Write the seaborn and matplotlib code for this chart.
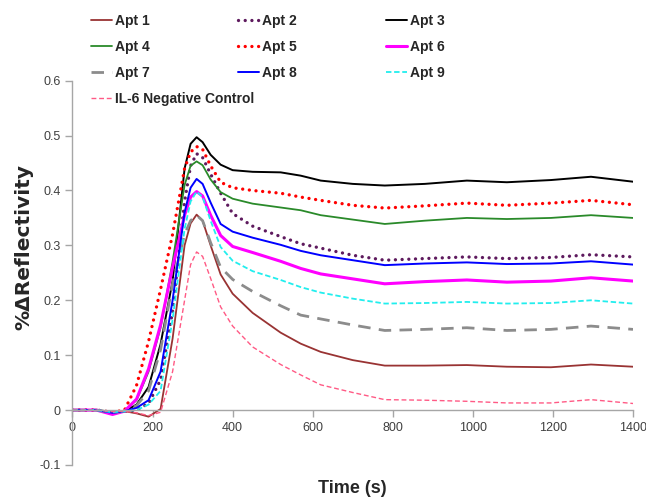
import matplotlib
matplotlib.use('Agg')
import matplotlib.pyplot as plt
from matplotlib.ticker import MultipleLocator, FuncFormatter
import seaborn as sns

# time points (s)
time_s = [0, 60, 100, 130, 160, 190, 220, 250, 280, 295, 310, 325, 345, 370, 400, 450,
          520, 570, 620, 700, 780, 880, 985, 1085, 1195, 1295, 1400]

apt1 = [0, 0, -0.003, -0.002, -0.006, -0.012, 0.002, 0.13, 0.30, 0.34, 0.356, 0.345, 0.30,
        0.247, 0.212, 0.177, 0.141, 0.121, 0.106, 0.091, 0.081, 0.081, 0.082, 0.079, 0.078,
        0.083, 0.079]
apt2 = [0, 0, -0.004, -0.002, 0.0, 0.012, 0.055, 0.18, 0.38, 0.445, 0.467, 0.46, 0.43,
        0.395, 0.358, 0.335, 0.316, 0.303, 0.295, 0.282, 0.273, 0.276, 0.279, 0.276, 0.278,
        0.283, 0.279]
apt3 = [0, 0, -0.005, -0.002, 0.01, 0.042, 0.12, 0.235, 0.44, 0.485, 0.497, 0.488, 0.465,
        0.447, 0.437, 0.434, 0.433, 0.427, 0.418, 0.412, 0.409, 0.412, 0.418, 0.415, 0.419,
        0.425, 0.416]
apt4 = [0, 0, -0.004, -0.001, 0.018, 0.07, 0.15, 0.27, 0.41, 0.445, 0.453, 0.446, 0.42,
        0.397, 0.385, 0.376, 0.369, 0.364, 0.355, 0.347, 0.339, 0.345, 0.350, 0.348, 0.350,
        0.355, 0.350]
apt5 = [0, 0, -0.004, 0.0, 0.045, 0.125, 0.22, 0.32, 0.44, 0.47, 0.48, 0.475, 0.445,
        0.415, 0.405, 0.40, 0.395, 0.388, 0.382, 0.373, 0.368, 0.372, 0.377, 0.373, 0.377,
        0.382, 0.374]
apt6 = [0, 0, -0.008, -0.002, 0.02, 0.075, 0.155, 0.26, 0.355, 0.388, 0.398, 0.39, 0.355,
        0.318, 0.298, 0.287, 0.271, 0.258, 0.248, 0.239, 0.230, 0.234, 0.237, 0.233, 0.235,
        0.241, 0.235]
apt7 = [0, 0, -0.005, -0.002, 0.008, 0.035, 0.11, 0.23, 0.32, 0.345, 0.355, 0.345, 0.305,
        0.26, 0.238, 0.216, 0.19, 0.173, 0.166, 0.155, 0.145, 0.147, 0.150, 0.145, 0.147,
        0.153, 0.147]
apt8 = [0, 0, -0.005, -0.002, 0.004, 0.018, 0.07, 0.20, 0.36, 0.405, 0.421, 0.412, 0.378,
        0.339, 0.325, 0.314, 0.301, 0.290, 0.282, 0.273, 0.264, 0.267, 0.269, 0.266, 0.267,
        0.271, 0.265]
apt9 = [0, 0, -0.004, -0.002, 0.0, 0.01, 0.035, 0.165, 0.33, 0.38, 0.398, 0.388, 0.345,
        0.297, 0.272, 0.253, 0.237, 0.224, 0.214, 0.203, 0.194, 0.195, 0.197, 0.194, 0.195,
        0.200, 0.194]
il6 = [0, 0, -0.003, -0.002, -0.005, -0.01, -0.004, 0.07, 0.20, 0.265, 0.288, 0.28, 0.24,
       0.188, 0.153, 0.115, 0.083, 0.064, 0.046, 0.032, 0.019, 0.018, 0.016, 0.013, 0.013,
       0.019, 0.012]

labels = ['Apt 1', 'Apt 2', 'Apt 3', 'Apt 4', 'Apt 5', 'Apt 6', 'Apt 7', 'Apt 8', 'Apt 9',
          'IL-6 Negative Control']
series = [apt1, apt2, apt3, apt4, apt5, apt6, apt7, apt8, apt9, il6]
colors = ['#993333', '#5E1A5E', '#000000', '#2A8A2A', '#FF0000', '#FF00FF', '#8C8C8C',
          '#0000FF', '#22EEEE', '#FF5A85']
dotted = (0, (0.01, 2.0))
styles = ['-', dotted, '-', '-', dotted, '-', (0, (4.5, 3)), '-', (0, (3, 1.5)), (0, (3.5, 2))]
widths = [1.3, 2.4, 1.4, 1.3, 2.4, 2.2, 2.0, 1.4, 1.3, 1.0]

sns.set_style('white')
plt.rcParams['font.family'] = ['Liberation Sans', 'DejaVu Sans']

fig = plt.figure(figsize=(6.46, 4.98), dpi=100)
ax = fig.add_axes([0.1122, 0.0663, 0.8677, 0.7717])

for vals, lab, c, ls, lw in zip(series, labels, colors, styles, widths):
    sns.lineplot(x=time_s, y=vals, ax=ax, color=c, linestyle=ls, linewidth=lw,
                 label=lab, dash_capstyle='round' if ls is dotted else 'butt',
                 solid_joinstyle='round')

if ax.get_legend() is not None:
    ax.get_legend().remove()

ax.set_xlim(0, 1400)
ax.set_ylim(-0.1, 0.6)
ax.xaxis.set_major_locator(MultipleLocator(200))
ax.yaxis.set_major_locator(MultipleLocator(0.1))
ax.yaxis.set_major_formatter(FuncFormatter(lambda v, p: f'{round(v, 1):g}'))

sns.despine(ax=ax)
ax.spines['bottom'].set_position(('data', 0))
for s in ['left', 'bottom']:
    ax.spines[s].set_color('#A6A6A6')
    ax.spines[s].set_linewidth(1.0)
ax.tick_params(axis='both', direction='out', length=5, width=1, color='#A6A6A6',
               labelsize=9, labelcolor='#404040', left=True, bottom=True)

ax.set_xlabel('Time (s)', fontsize=13, fontweight='bold')
ax.xaxis.set_label_coords(0.5, -0.04)
ax.set_ylabel('%ΔReflectivity', fontsize=14.5, fontweight='bold', family='DejaVu Sans')
ax.yaxis.set_label_coords(-0.07, 0.567)

# legend laid out in three columns like the original
handles, labs = ax.get_legend_handles_labels()
cols = [[0, 3, 6, 9], [1, 4, 7], [2, 5, 8]]
col_x = [91, 238, 386]
for idx, x0 in zip(cols, col_x):
    fig.legend([handles[i] for i in idx], [labs[i] for i in idx],
               loc='upper left', bbox_to_anchor=(x0 / 646, 0.972), frameon=False,
               borderpad=0, borderaxespad=0, handlelength=1.5, handletextpad=0.2,
               labelspacing=0.87,
               prop={'family': 'Liberation Sans', 'weight': 'bold', 'size': 10})

fig.savefig('out.png', dpi=100)
